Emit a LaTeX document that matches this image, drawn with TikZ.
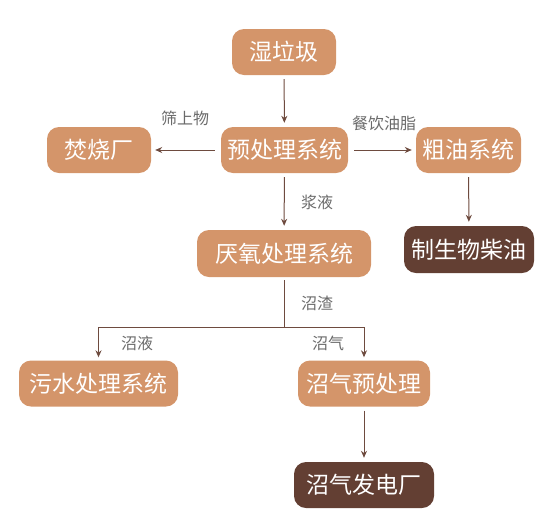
\documentclass[tikz,border=0pt]{standalone}
\usepackage{fontspec}
\setmainfont{Noto Sans CJK SC}
\usetikzlibrary{arrows.meta}
\definecolor{boxor}{HTML}{D4956A}
\definecolor{boxdk}{HTML}{633F33}
\definecolor{arr}{HTML}{6E4B3F}
\definecolor{lbl}{HTML}{6A6A6A}
\tikzset{
  box/.style={rounded corners=12pt, fill=boxor, text=white, minimum height=46pt, inner sep=0pt,
    font=\fontsize{23}{26}\selectfont},
  dbox/.style={box, fill=boxdk},
  conn/.style={draw=arr, line width=1pt, -{Stealth[length=7pt,width=6pt]}, shorten >=4pt, shorten <=4pt},
  plain/.style={draw=arr, line width=1pt},
  lab/.style={text=lbl, font=\fontsize{16}{19}\selectfont, inner sep=0pt}
}
\begin{document}
\begin{tikzpicture}[x=1pt,y=-1pt]
\useasboundingbox (0,0) rectangle (554,520);
\node[box, minimum width=104pt] (n1) at (284,52) {湿垃圾};
\node[box, minimum width=127pt] (n2) at (284.5,150) {预处理系统};
\node[box, minimum width=104pt] (n3) at (99,150) {焚烧厂};
\node[box, minimum width=105pt] (n4) at (468.5,150) {粗油系统};
\node[dbox, minimum width=130pt, minimum height=47pt] (n5) at (469,249.5) {制生物柴油};
\node[box, minimum width=174pt, minimum height=47pt] (n6) at (284,253.5) {厌氧处理系统};
\node[box, minimum width=159pt] (n7) at (98.5,383.5) {污水处理系统};
\node[box, minimum width=132pt] (n8) at (364,383.5) {沼气预处理};
\node[dbox, minimum width=140pt] (n9) at (364,485) {沼气发电厂};
\coordinate (j) at (284,327);
\draw[conn] (n1) -- (n2);
\draw[conn, shorten <=6pt] (n2) -- (n3);
\draw[conn, shorten <=6pt] (n2) -- (n4);
\draw[conn] (n2) -- (n6);
\draw[conn] (n4) -- (n5);
\draw[plain, shorten <=3pt] (n6) -- (j);
\draw[conn, shorten <=0pt, shorten >=3pt] (j) -| (n7.north);
\draw[conn, shorten <=0pt, shorten >=3pt] (j) -| (n8.north);
\draw[conn] (n8) -- (n9);
\node[lab] (l1) at (185,118) {筛上物};
\node[lab] (l2) at (384,123) {餐饮油脂};
\node[lab] (l3) at (317,202) {浆液};
\node[lab] (l4) at (317,303) {沼渣};
\node[lab] (l5) at (137,343) {沼液};
\node[lab] (l6) at (328,343) {沼气};
\end{tikzpicture}
\end{document}
